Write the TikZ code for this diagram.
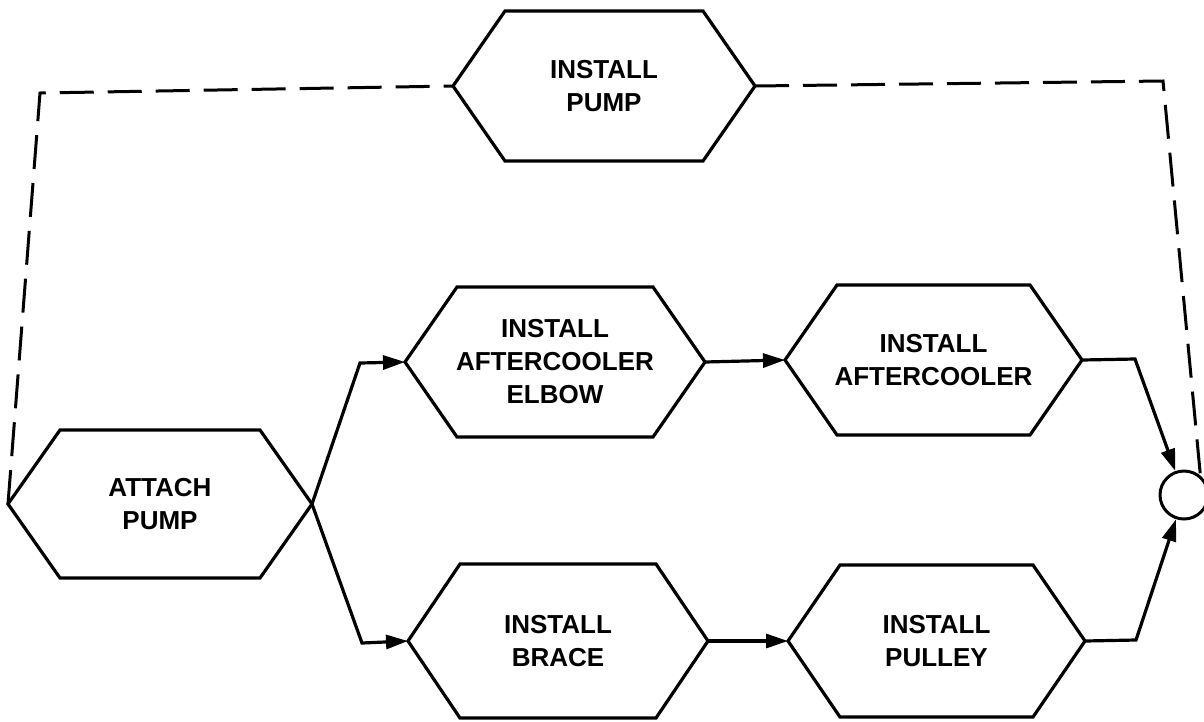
\documentclass[tikz,border=0pt]{standalone}
\usepackage{fontspec}
\setmainfont{Liberation Sans}
\usetikzlibrary{arrows.meta}
\begin{document}
\begin{tikzpicture}[x=1pt,y=-1pt,
  hexbox/.style={rectangle, inner sep=0pt, outer sep=0pt, minimum height=150pt, align=center, font=\fontsize{26}{33}\selectfont\bfseries},
  hexline/.style={line width=3.2pt, line join=miter},
  flow/.style={line width=3.2pt, -{Triangle[length=22pt,width=14pt]}},
  dashline/.style={line width=3pt, dash pattern=on 34pt off 14pt},
  joinnode/.style={circle, draw, line width=3pt, minimum size=48pt, inner sep=0pt}
]
\useasboundingbox (0,0) rectangle (1204,721);
\fill[white] (0,0) rectangle (1204,721);

\node[hexbox, minimum width=302pt] (pump) at (604,86) {INSTALL\\PUMP};
\node[hexbox, minimum width=304pt, minimum height=148pt] (attach) at (160,504) {ATTACH\\PUMP};
\node[hexbox, minimum width=300pt] (elbow) at (555,362) {INSTALL\\AFTERCOOLER\\ELBOW};
\node[hexbox, minimum width=297pt] (cooler) at (933.5,360) {INSTALL\\AFTERCOOLER};
\node[hexbox, minimum width=300pt, minimum height=154pt] (brace) at (558,641) {INSTALL\\BRACE};
\node[hexbox, minimum width=297pt, minimum height=152pt] (pulley) at (936.5,641) {INSTALL\\PULLEY};
\node[joinnode] (join) at (1184,495) {};

\foreach \n in {pump,attach,elbow,cooler,brace,pulley}
  \draw[hexline] (\n.west) -- ([xshift=52pt]\n.north west) -- ([xshift=-52pt]\n.north east)
    -- (\n.east) -- ([xshift=-52pt]\n.south east) -- ([xshift=52pt]\n.south west) -- cycle;

\coordinate (dl) at (40,93);
\coordinate (dr) at (1163,81);
\coordinate (ub) at (360,363);
\coordinate (lb) at (362,643);
\coordinate (cb) at (1135,359);
\coordinate (pb) at (1136,640);

\draw[dashline] (attach.west) -- (dl) -- (pump.west);
\draw[dashline] (pump.east) -- (dr) -- (join.50);

\draw[flow] (attach.east) -- (ub) -- (elbow.west);
\draw[flow] (attach.east) -- (lb) -- (brace.west);
\draw[flow] (elbow.east) -- (cooler.west);
\draw[flow] (brace.east) -- (pulley.west);
\draw[flow] (cooler.east) -- (cb) -- (join);
\draw[flow] (pulley.east) -- (pb) -- (join);
\end{tikzpicture}
\end{document}
